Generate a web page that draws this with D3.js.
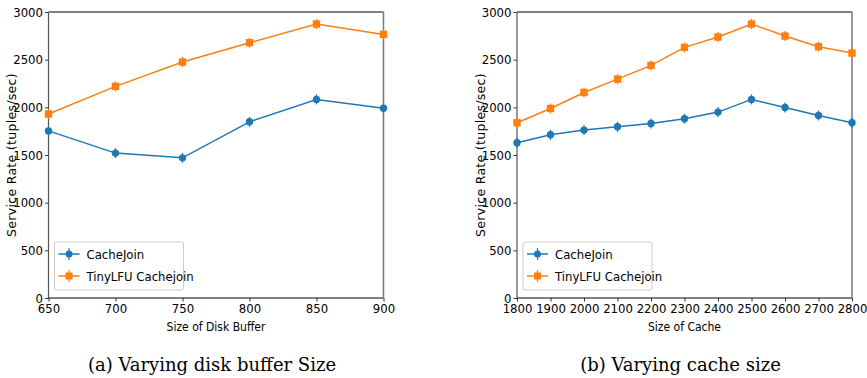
<!DOCTYPE html>
<html>
<head>
<meta charset="utf-8">
<script src="https://cdn.jsdelivr.net/npm/d3@7"></script>
<style>
  body { margin: 0; background: #fff; }
  svg { display: block; }
</style>
</head>
<body>
<svg id="chart" width="867" height="378"></svg>
<script>
// panel (a): disk buffer
const diskBuffer = [650, 700, 750, 800, 850, 900]
const diskCacheJoin = [1753, 1520, 1470, 1848, 2083, 1990]
const diskTinyLFU = [1930, 2220, 2475, 2678, 2874, 2765]

// panel (b): cache size
const cacheSize = [1800, 1900, 2000, 2100, 2200, 2300, 2400, 2500, 2600, 2700, 2800]
const cacheCacheJoin = [1628, 1712, 1761, 1796, 1831, 1880, 1950, 2083, 1999, 1915, 1838]
const cacheTinyLFU = [1838, 1988, 2156, 2296, 2440, 2629, 2737, 2874, 2748, 2636, 2569]

const yTicks = [0, 500, 1000, 1500, 2000, 2500, 3000]
const seriesNames = ['CacheJoin', 'TinyLFU Cachejoin']
const colors = ['#1f77b4', '#ff7f0e']

const tickFont = '"DejaVu Sans Condensed", "DejaVu Sans", sans-serif'

let svg = d3.select('#chart')

function drawPanel(left, xs, s1, s2, xLabel, caption) {
  let width = 335
  let top = 12
  let height = 286
  let g = svg.append('g').attr('transform', 'translate(' + left + ',' + top + ')')

  let x = d3.scaleLinear().domain(d3.extent(xs)).range([0, width])
  let y = d3.scaleLinear().domain([0, 3000]).range([height, 0])

  // axes
  let yAxis = g.append('g')
    .call(d3.axisLeft(y).tickValues(yTicks).tickSize(3.5).tickPadding(2).tickFormat(d3.format('d')))
  let xAxis = g.append('g')
    .attr('transform', 'translate(0,' + height + ')')
    .call(d3.axisBottom(x).tickValues(xs).tickSize(3.5).tickPadding(2).tickFormat(d3.format('d')))
  ;[xAxis, yAxis].forEach(a => {
    a.select('.domain').remove()
    a.selectAll('line').attr('stroke', '#000').attr('stroke-width', 0.8)
    a.selectAll('text')
      .style('font-family', tickFont)
      .style('font-size', '13px')
      .attr('fill', '#000')
  })

  // frame
  g.append('line').attr('x1', 0).attr('x2', width).attr('y1', 0).attr('y2', 0)
    .attr('stroke', '#000').attr('stroke-width', 1)
  g.append('line').attr('x1', 0).attr('x2', width).attr('y1', height).attr('y2', height)
    .attr('stroke', '#000').attr('stroke-width', 1)
  g.append('line').attr('x1', 0).attr('x2', 0).attr('y1', 0).attr('y2', height)
    .attr('stroke', '#555').attr('stroke-width', 1.2)
  g.append('line').attr('x1', width).attr('x2', width).attr('y1', 0).attr('y2', height)
    .attr('stroke', '#777').attr('stroke-width', 1.5)

  // series
  let series = [s1, s2]
  series.forEach((vals, i) => {
    let pts = xs.map((d, j) => ({ x: d, y: vals[j] }))
    let line = d3.line().x(d => x(d.x)).y(d => y(d.y))
    g.append('path')
      .datum(pts)
      .attr('fill', 'none')
      .attr('stroke', colors[i])
      .attr('stroke-width', 1.5)
      .attr('d', line)
    // small error bars
    g.selectAll('.err' + i)
      .data(pts)
      .enter()
      .append('line')
      .attr('x1', d => x(d.x))
      .attr('x2', d => x(d.x))
      .attr('y1', d => y(d.y) - 5)
      .attr('y2', d => y(d.y) + 5)
      .attr('stroke', colors[i])
      .attr('stroke-width', 1.2)
    if (i === 0) {
      g.selectAll('.mk0')
        .data(pts)
        .enter()
        .append('circle')
        .attr('cx', d => x(d.x))
        .attr('cy', d => y(d.y))
        .attr('r', 3.7)
        .attr('fill', colors[i])
    } else {
      g.selectAll('.mk1')
        .data(pts)
        .enter()
        .append('rect')
        .attr('x', d => x(d.x) - 3.7)
        .attr('y', d => y(d.y) - 3.7)
        .attr('width', 7.4)
        .attr('height', 7.4)
        .attr('fill', colors[i])
    }
  })

  // legend
  let lg = g.append('g').attr('transform', 'translate(6,' + (height - 56) + ')')
  lg.append('rect')
    .attr('width', 129)
    .attr('height', 48)
    .attr('rx', 2)
    .attr('fill', '#fff')
    .attr('stroke', '#ccc')
    .attr('stroke-width', 1)
  seriesNames.forEach((name, i) => {
    let cy = 12 + i * 22
    lg.append('line').attr('x1', 4).attr('x2', 25).attr('y1', cy).attr('y2', cy)
      .attr('stroke', colors[i]).attr('stroke-width', 1.5)
    lg.append('line').attr('x1', 14.5).attr('x2', 14.5).attr('y1', cy - 6).attr('y2', cy + 6)
      .attr('stroke', colors[i]).attr('stroke-width', 1.2)
    if (i === 0) {
      lg.append('circle').attr('cx', 14.5).attr('cy', cy).attr('r', 3.5).attr('fill', colors[i])
    } else {
      lg.append('rect').attr('x', 11).attr('y', cy - 3.5).attr('width', 7).attr('height', 7).attr('fill', colors[i])
    }
    lg.append('text')
      .attr('x', 32)
      .attr('y', cy)
      .attr('dy', '0.35em')
      .style('font-family', tickFont)
      .style('font-size', '13px')
      .text(name)
  })

  // axis labels
  g.append('text')
    .attr('x', width / 2)
    .attr('y', height + 33)
    .attr('text-anchor', 'middle')
    .style('font-family', tickFont)
    .style('font-size', '12px')
    .text(xLabel)

  g.append('text')
    .attr('transform', 'rotate(-90)')
    .attr('x', -height / 2)
    .attr('y', -32.5)
    .attr('text-anchor', 'middle')
    .style('font-family', '"DejaVu Sans", sans-serif')
    .style('font-size', '12.5px')
    .style('letter-spacing', '0.3px')
    .text('Service Rate (tuples/sec)')

  // caption
  g.append('text')
    .attr('x', width / 2 - 4)
    .attr('y', height + 73)
    .attr('text-anchor', 'middle')
    .style('font-family', '"DejaVu Serif", serif')
    .style('font-size', '18px')
    .text(caption)
}

drawPanel(48.5, diskBuffer, diskCacheJoin, diskTinyLFU, 'Size of Disk Buffer', '(a) Varying disk buffer Size')
drawPanel(517, cacheSize, cacheCacheJoin, cacheTinyLFU, 'Size of Cache', '(b) Varying cache size')
</script>
</body>
</html>
